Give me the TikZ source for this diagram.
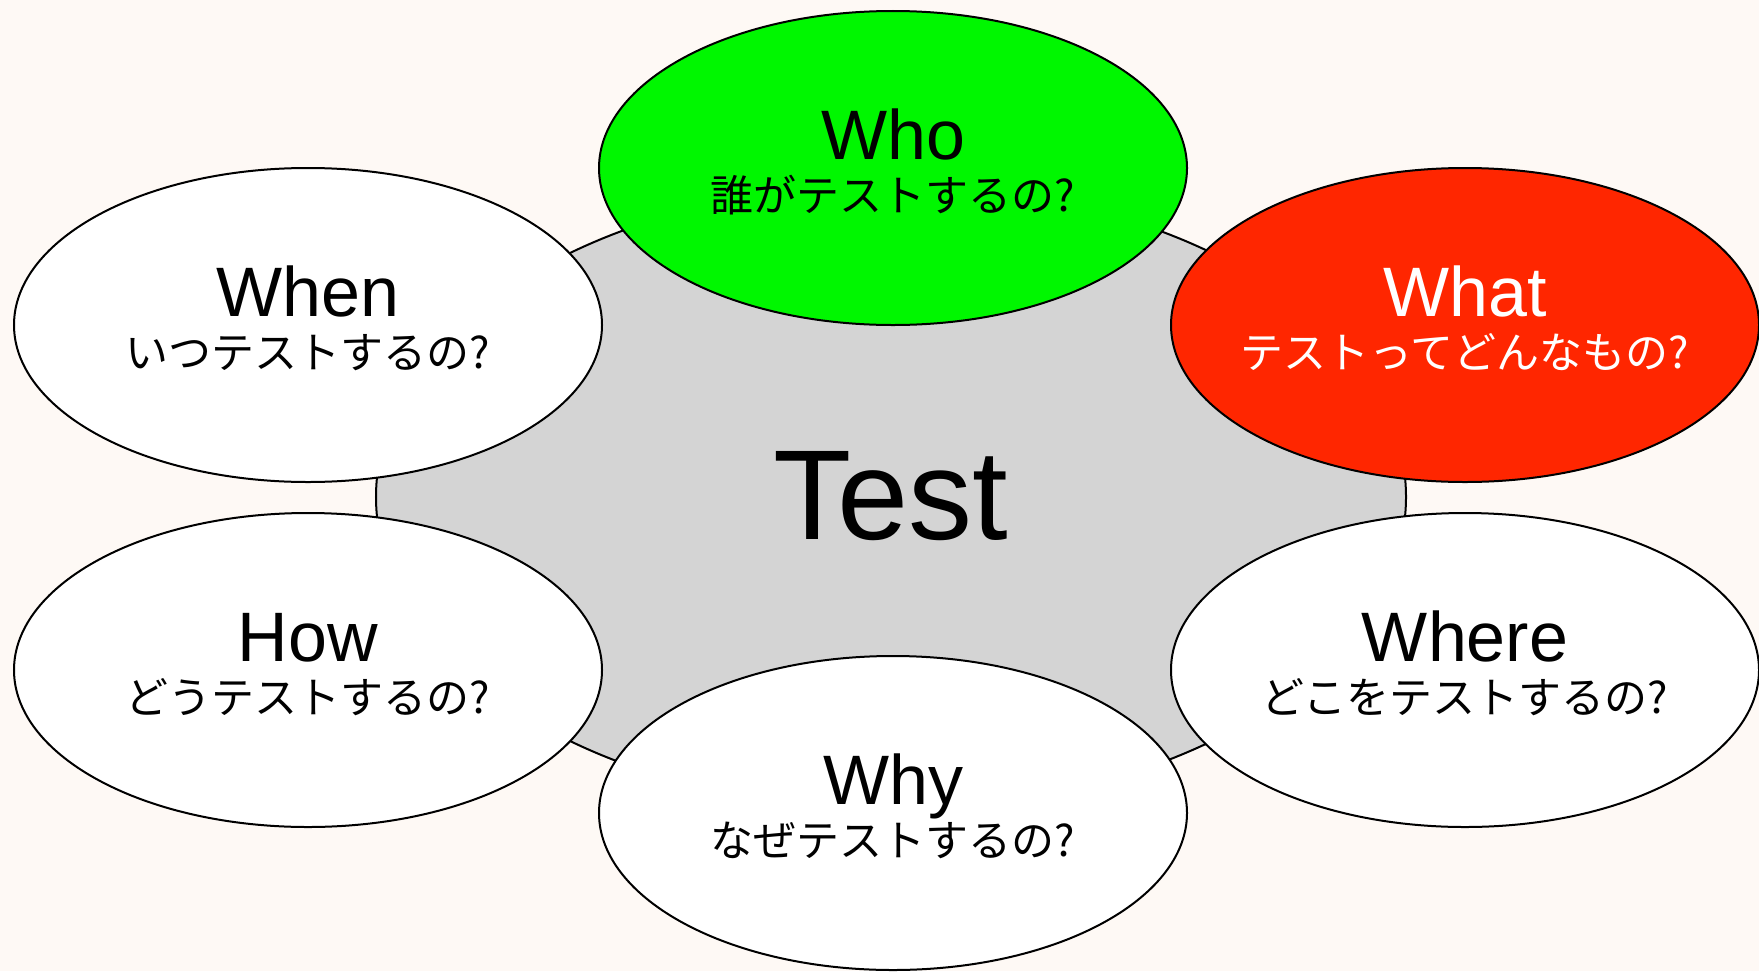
\documentclass[tikz,border=0pt]{standalone}
\usepackage{fontspec}
\setmainfont{Liberation Sans}
\newfontfamily\jp{Noto Sans CJK JP}
\usetikzlibrary{shapes.geometric}
\definecolor{paper}{HTML}{FEF9F5}
\definecolor{core}{HTML}{D4D4D4}
\definecolor{wgreen}{HTML}{00F700}
\definecolor{wred}{HTML}{FF2600}
\tikzset{
  bubble/.style={ellipse, draw=black, line width=2bp, inner sep=0pt,
    minimum width=588bp, minimum height=314bp},
  head/.style={anchor=base, font=\fontsize{70bp}{80bp}\selectfont},
  sub/.style={anchor=base, font=\jp\fontsize{43bp}{50bp}\selectfont},
}
\begin{document}
\begin{tikzpicture}[x=1bp, y=-1bp]
  % canvas
  \fill[paper] (0,0) rectangle (1759,971);
  \useasboundingbox (0,0) rectangle (1759,971);

  % central topic
  \node[ellipse, draw=black, line width=2bp, fill=core, inner sep=0pt,
        minimum width=1030bp, minimum height=624bp] (test) at (891,497) {};
  \node[anchor=base, font=\fontsize{128bp}{140bp}\selectfont] (testlabel)
        at ([yshift=-42bp]test.center) {Test};

  % the six questions
  \node[bubble, fill=wgreen] (who)   at (893,168) {};
  \node[bubble, fill=white]  (when)  at (308,325) {};
  \node[bubble, fill=wred]   (what)  at (1465,325) {};
  \node[bubble, fill=white]  (how)   at (308,670) {};
  \node[bubble, fill=white]  (where) at (1465,670) {};
  \node[bubble, fill=white]  (why)   at (893,813) {};

  \node[head] (whoT) at ([yshift=9bp]who.center) {Who};
  \node[sub]  (whoS) at ([yshift=-43bp]who.center) {誰がテストするの?};

  \node[head] (whenT) at ([yshift=9bp]when.center) {When};
  \node[sub]  (whenS) at ([yshift=-43bp]when.center) {いつテストするの?};

  \node[head, text=white] (whatT) at ([yshift=9bp]what.center) {What};
  \node[sub, text=white]  (whatS) at ([yshift=-43bp]what.center) {テストってどんなもの?};

  \node[head] (howT) at ([yshift=9bp]how.center) {How};
  \node[sub]  (howS) at ([yshift=-43bp]how.center) {どうテストするの?};

  \node[head] (whereT) at ([yshift=9bp]where.center) {Where};
  \node[sub]  (whereS) at ([yshift=-43bp]where.center) {どこをテストするの?};

  \node[head] (whyT) at ([yshift=9bp]why.center) {Why};
  \node[sub]  (whyS) at ([yshift=-43bp]why.center) {なぜテストするの?};
\end{tikzpicture}
\end{document}
